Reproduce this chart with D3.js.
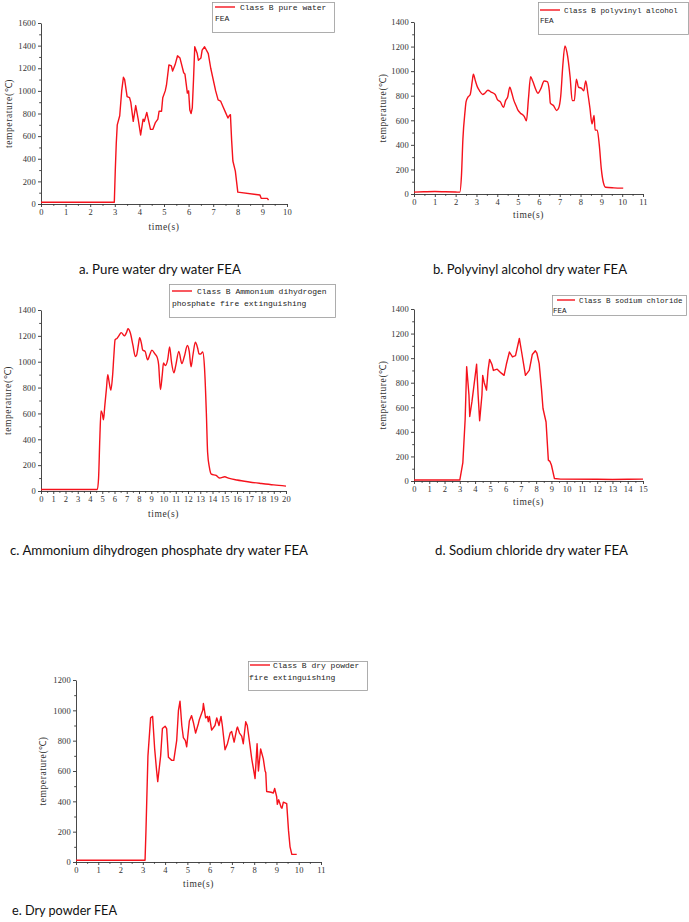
<!DOCTYPE html>
<html>
<head>
<meta charset="utf-8">
<script src="https://cdn.jsdelivr.net/npm/d3@7"></script>
<style>
  html, body { margin: 0; padding: 0; background: #fff; }
  svg { display: block; }
  .tick text { font-family: "Liberation Serif", serif; font-size: 8.5px; fill: #333; letter-spacing: 0.2px; }
  .axis path, .axis line { stroke: #333; stroke-width: 0.9; }
  .title { font-family: "Liberation Serif", serif; font-size: 9.5px; fill: #333; letter-spacing: 0.6px; }
  .legend text { font-family: "Liberation Mono", "DejaVu Sans Mono", monospace; fill: #222; }
  .caption { font-family: Lato, "Open Sans", sans-serif; font-size: 13px; fill: #111; }
</style>
</head>
<body>
<svg id="chart" width="689" height="922"></svg>
<script>
// ---------------- DATA ----------------
const pureWater = [[0,15],[1,15],[2,15],[2.98,15],[3.02,300],[3.06,540],[3.1,700],[3.2,780],[3.28,1000],[3.35,1120],[3.4,1100],[3.5,950],[3.6,940],[3.65,900],[3.75,730],[3.85,870],[3.95,750],[4.05,610],[4.15,750],[4.2,730],[4.3,810],[4.45,660],[4.55,660],[4.65,720],[4.75,750],[4.8,820],[4.9,820],[4.95,940],[5.05,1000],[5.1,1050],[5.2,1230],[5.3,1220],[5.35,1175],[5.45,1230],[5.55,1310],[5.65,1290],[5.8,1160],[5.85,1150],[5.95,980],[6.0,1000],[6.05,830],[6.1,800],[6.15,850],[6.2,1100],[6.25,1390],[6.35,1330],[6.4,1270],[6.5,1290],[6.55,1360],[6.65,1390],[6.8,1330],[6.9,1200],[7.1,1000],[7.2,920],[7.3,910],[7.4,860],[7.5,810],[7.6,760],[7.65,780],[7.7,790],[7.75,560],[7.8,380],[7.9,290],[8.0,105],[8.9,80],[8.95,50],[9.2,50],[9.25,35]];

const polyvinylAlcohol = [[0,15],[0.5,18],[1,20],[1.5,18],[2,16],[2.2,15],[2.28,150],[2.35,450],[2.45,670],[2.5,750],[2.6,790],[2.7,810],[2.8,920],[2.85,975],[2.95,920],[3.05,870],[3.15,840],[3.3,810],[3.4,820],[3.55,845],[3.7,830],[3.9,810],[4.0,770],[4.15,750],[4.3,705],[4.4,760],[4.5,790],[4.6,870],[4.7,820],[4.8,760],[4.9,720],[5.0,680],[5.1,660],[5.3,630],[5.4,595],[5.5,780],[5.6,955],[5.7,920],[5.85,850],[5.95,820],[6.1,860],[6.25,920],[6.4,915],[6.5,840],[6.55,740],[6.7,720],[6.85,680],[6.95,700],[7.05,800],[7.15,1050],[7.25,1205],[7.35,1150],[7.5,950],[7.6,760],[7.7,760],[7.8,935],[7.9,870],[8.05,860],[8.15,840],[8.25,920],[8.35,820],[8.45,700],[8.55,570],[8.65,640],[8.7,520],[8.8,520],[8.9,400],[9.0,200],[9.1,90],[9.2,55],[9.6,50],[10.05,48]];

const ammoniumPhosphate = [[0,12],[2,12],[4.6,12],[4.7,100],[4.8,400],[4.9,620],[5.0,600],[5.1,550],[5.2,650],[5.35,800],[5.45,900],[5.55,850],[5.7,780],[5.85,900],[5.95,1050],[6.05,1170],[6.2,1180],[6.35,1200],[6.55,1225],[6.8,1200],[7.0,1230],[7.1,1255],[7.3,1220],[7.5,1130],[7.7,1040],[7.8,1050],[7.95,1130],[8.05,1185],[8.2,1140],[8.3,1090],[8.5,1080],[8.7,1015],[8.9,1060],[9.05,1090],[9.3,1060],[9.5,1030],[9.6,980],[9.75,785],[9.9,900],[10.0,990],[10.15,970],[10.35,1020],[10.5,1115],[10.65,1000],[10.85,915],[11.0,970],[11.25,1080],[11.5,985],[11.7,1040],[11.95,1125],[12.1,1080],[12.25,960],[12.4,1050],[12.6,1150],[12.8,1100],[12.9,1060],[13.05,1060],[13.2,1075],[13.35,950],[13.5,600],[13.6,300],[13.75,180],[13.9,130],[14.3,120],[14.6,100],[15.0,110],[15.3,100],[16,85],[17,70],[18,58],[19,47],[20,38]];

const sodiumChloride = [[0,8],[1,8],[2,8],[3.0,8],[3.2,150],[3.35,500],[3.45,930],[3.6,700],[3.65,525],[3.8,650],[4.0,850],[4.1,950],[4.2,700],[4.3,490],[4.45,700],[4.5,860],[4.6,800],[4.75,740],[4.85,900],[4.95,990],[5.1,950],[5.2,900],[5.45,910],[5.7,880],[5.9,860],[6.05,950],[6.25,1050],[6.45,1010],[6.65,1020],[6.9,1160],[7.05,1050],[7.3,860],[7.55,900],[7.75,1030],[7.95,1060],[8.05,1040],[8.2,955],[8.35,750],[8.45,590],[8.65,480],[8.8,170],[8.9,160],[9.0,130],[9.2,20],[9.6,15],[12,14],[13,12],[14,14],[15,15]];

const dryPowder = [[0,12],[1,12],[2,12],[3.1,12],[3.14,200],[3.23,700],[3.35,950],[3.44,960],[3.53,750],[3.62,600],[3.67,530],[3.8,700],[3.88,880],[4.0,895],[4.07,880],[4.15,690],[4.3,670],[4.39,670],[4.52,800],[4.6,1000],[4.67,1060],[4.75,900],[4.82,820],[4.91,800],[4.97,760],[5.09,930],[5.19,965],[5.27,920],[5.37,850],[5.49,910],[5.54,940],[5.69,1000],[5.72,1045],[5.82,950],[5.9,960],[5.94,925],[5.99,960],[6.09,870],[6.24,900],[6.32,950],[6.42,900],[6.51,960],[6.57,900],[6.69,740],[6.8,780],[6.92,850],[6.99,860],[7.1,790],[7.22,880],[7.25,890],[7.34,850],[7.44,830],[7.51,780],[7.62,925],[7.69,900],[7.81,770],[7.89,680],[7.96,620],[8.04,550],[8.13,780],[8.19,600],[8.29,745],[8.41,680],[8.49,600],[8.52,590],[8.56,465],[8.76,460],[8.86,455],[8.92,485],[9.01,430],[9.04,380],[9.1,410],[9.21,360],[9.25,355],[9.31,395],[9.46,385],[9.54,210],[9.61,100],[9.69,50],[9.91,50]];

const xTicks10 = d3.range(0, 11, 1);
const xTicks11 = d3.range(0, 12, 1);
const xTicks15 = d3.range(0, 16, 1);
const xTicks20 = d3.range(0, 21, 1);
const yTicks1600 = d3.range(0, 1601, 200);
const yTicks1400 = d3.range(0, 1401, 200);
const yTicks1200 = d3.range(0, 1201, 200);

const legendLabels = [
  ["Class B pure water", "FEA"],
  ["Class B polyvinyl alcohol", "FEA"],
  ["Class B Ammonium dihydrogen", "phosphate fire extinguishing"],
  ["Class B sodium chloride", "FEA"],
  ["Class B dry powder", "fire extinguishing"]
];
const captions = [
  "a. Pure water dry water FEA",
  "b. Polyvinyl alcohol dry water FEA",
  "c. Ammonium dihydrogen phosphate dry water FEA",
  "d. Sodium chloride dry water FEA",
  "e. Dry powder FEA"
];
const yTitle = "temperature(\u2103)";
const xTitle = "time(s)";

// ---------------- LAYOUT ----------------
const panels = [
  { data: pureWater, xTicks: xTicks10, yTicks: yTicks1600, smooth: false,
    px: [41, 287], py: [204, 23], yTitleX: 9, xTitleY: 230,
    box: [212, 2, 122, 30], lg: { x1: 215, x2: 235, y: 7, tx: 240, ty1: 10, tx2: 215, ty2: 21, fs: 8 },
    cap: { x: 79, y: 274, w: 162 } },
  { data: polyvinylAlcohol, xTicks: xTicks11, yTicks: yTicks1400, smooth: true,
    px: [414, 643], py: [194, 22], yTitleX: 383, xTitleY: 218,
    box: [538, 2, 150, 32], lg: { x1: 540, x2: 560, y: 10, tx: 564, ty1: 13, tx2: 540, ty2: 23, fs: 7.6 },
    cap: { x: 433, y: 274, w: 194 } },
  { data: ammoniumPhosphate, xTicks: xTicks20, yTicks: yTicks1400, smooth: true,
    px: [41, 286], py: [491, 310], yTitleX: 8, xTitleY: 517,
    box: [169, 284, 166, 33], lg: { x1: 172, x2: 192, y: 291, tx: 197, ty1: 294, tx2: 172, ty2: 306, fs: 8 },
    cap: { x: 10, y: 555, w: 298 } },
  { data: sodiumChloride, xTicks: xTicks15, yTicks: yTicks1400, smooth: false,
    px: [414, 643], py: [481, 309], yTitleX: 383, xTitleY: 505,
    box: [552, 295, 134, 20], lg: { x1: 557, x2: 575, y: 300, tx: 579, ty1: 303, tx2: 553, ty2: 313, fs: 7.5 },
    cap: { x: 435, y: 555, w: 193 } },
  { data: dryPowder, xTicks: xTicks11, yTicks: yTicks1200, smooth: false,
    px: [76, 321], py: [862, 680], yTitleX: 43, xTitleY: 887,
    box: [248, 661, 119, 29], lg: { x1: 250, x2: 270, y: 665, tx: 273, ty1: 668, tx2: 249, ty2: 680, fs: 8 },
    cap: { x: 12, y: 915, w: 105 } }
];

const svg = d3.select("#chart");

panels.forEach((p, i) => {
  const xMax = p.xTicks[p.xTicks.length - 1];
  const yMax = p.yTicks[p.yTicks.length - 1];
  const x = d3.scaleLinear().domain([0, xMax]).range(p.px);
  const y = d3.scaleLinear().domain([0, yMax]).range(p.py);
  const g = svg.append("g");

  // minor ticks
  const xMinor = d3.range(0.5, xMax, 1);
  const yMinor = d3.range(100, yMax, 200);
  g.append("g").attr("class", "axis").attr("transform", `translate(0,${p.py[0]})`)
    .call(d3.axisBottom(x).tickValues(xMinor).tickSize(1.8).tickFormat(""))
    .select(".domain").remove();
  g.append("g").attr("class", "axis").attr("transform", `translate(${p.px[0]},0)`)
    .call(d3.axisLeft(y).tickValues(yMinor).tickSize(1.8).tickFormat(""))
    .select(".domain").remove();

  // major axes
  g.append("g").attr("class", "axis").attr("transform", `translate(0,${p.py[0]})`)
    .call(d3.axisBottom(x).tickValues(p.xTicks).tickSize(3).tickPadding(2).tickSizeOuter(0).tickFormat(d3.format("d")));
  g.append("g").attr("class", "axis").attr("transform", `translate(${p.px[0]},0)`)
    .call(d3.axisLeft(y).tickValues(p.yTicks).tickSize(3).tickPadding(2).tickSizeOuter(0).tickFormat(d3.format("d")));

  // line
  const line = d3.line()
    .x(d => x(d[0])).y(d => y(d[1]))
    .curve(p.smooth ? d3.curveMonotoneX : d3.curveLinear);
  g.append("path").datum(p.data)
    .attr("fill", "none").attr("stroke", "#f5121c").attr("stroke-width", 1.4)
    .attr("stroke-linejoin", "round").attr("d", line);

  // titles
  g.append("text").attr("class", "title")
    .attr("transform", `translate(${p.yTitleX},${(p.py[0] + p.py[1]) / 2}) rotate(-90)`)
    .attr("text-anchor", "middle").attr("dominant-baseline", "central").text(yTitle);
  g.append("text").attr("class", "title")
    .attr("x", (p.px[0] + p.px[1]) / 2).attr("y", p.xTitleY)
    .attr("text-anchor", "middle").text(xTitle);

  // legend
  const lg = g.append("g").attr("class", "legend");
  lg.append("rect").attr("x", p.box[0] + 0.5).attr("y", p.box[1] + 0.5)
    .attr("width", p.box[2]).attr("height", p.box[3])
    .attr("fill", "#fff").attr("stroke", "#999").attr("stroke-width", 0.8);
  lg.append("line").attr("x1", p.lg.x1).attr("x2", p.lg.x2).attr("y1", p.lg.y).attr("y2", p.lg.y)
    .attr("stroke", "#f5121c").attr("stroke-width", 1.4);
  lg.append("text").attr("x", p.lg.tx).attr("y", p.lg.ty1).style("font-size", p.lg.fs + "px").text(legendLabels[i][0]);
  lg.append("text").attr("x", p.lg.tx2).attr("y", p.lg.ty2).style("font-size", p.lg.fs + "px").text(legendLabels[i][1]);

  // caption
  svg.append("text").attr("class", "caption")
    .attr("x", p.cap.x).attr("y", p.cap.y)
    .attr("textLength", p.cap.w).attr("lengthAdjust", "spacingAndGlyphs")
    .text(captions[i]);
});
</script>
</body>
</html>
